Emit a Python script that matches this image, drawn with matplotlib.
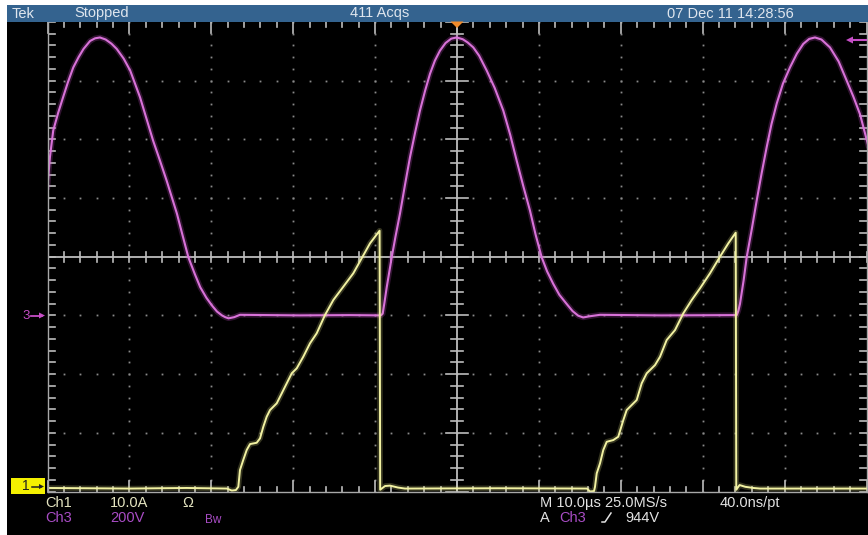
import numpy as np
import matplotlib
matplotlib.use("Agg")
import matplotlib.pyplot as plt
from matplotlib.patches import Rectangle, Polygon
from matplotlib.lines import Line2D

# ---- channel settings ----
time_per_div = 10.0      # µs/div
ch3_volts_per_div = 200.0
ch3_offset_div = -1.0
ch1_amps_per_div = 10.0
ch1_offset_div = -3.95

# ---- Ch3 voltage (V) vs time (µs) ----
ch3_t = [-50.0, -49.7, -49.3, -48.7, -48.1, -47.5, -46.85, -46.2, -45.6, -44.8,
         -44.2, -43.6, -42.9, -42.2, -41.55, -40.7, -39.9, -38.7, -37.1, -36.3,
         -35.45, -34.2, -33.5, -32.8, -32.0, -31.35, -30.6, -29.9, -29.3, -28.7,
         -28.3, -27.9, -27.2, -26.5, -19.2, -13.1, -9.3, -9.07, -8.85, -8.58,
         -7.97, -7.5, -6.96, -6.35, -5.74, -5.1, -4.52, -3.9, -3.30, -2.7,
         -2.08, -1.4, -0.7, -0.04, 0.7, 1.3, 1.99, 2.7, 3.63, 4.6,
         5.65, 6.5, 7.29, 8.1, 8.91, 9.6, 10.34, 11.0, 11.76, 12.5,
         13.39, 14.1, 14.8, 15.4, 16.2, 17.46, 25.0, 34.15, 34.35, 34.55,
         35.0, 35.37, 36.0, 36.59, 37.2, 37.81, 38.4, 39.04, 39.8, 40.66,
         41.5, 42.28, 43.0, 43.71, 44.5, 45.54, 46.6, 47.58, 48.4, 49.2,
         50.2]
ch3_v = [438, 540, 630, 690, 743, 795, 845, 880, 908, 935,
         944, 947, 940, 926, 908, 875, 834, 743, 595, 530,
         459, 347, 272, 198, 140, 96, 60, 33, 13, 0,
         -6, -10, -6, 2, 0, 1, 0, 6, 45, 96,
         198, 270, 347, 445, 539, 625, 698, 765, 823, 868,
         902, 928, 943, 947, 941, 930, 913, 885, 834, 775,
         698, 615, 527, 440, 357, 275, 198, 150, 107, 70,
         39, 15, -1, -7, -3, 2, 0, 1, 15, 39,
         120, 198, 295, 391, 485, 573, 652, 722, 790, 845,
         892, 925, 942, 947, 940, 913, 865, 800, 745, 686,
         580]

# ---- Ch1 current (A) vs time (µs) ----
ch1_t = [-50.0, -40.0, -33.0, -28.1, -27.5, -27.0, -26.7, -26.5, -26.1, -25.68,
         -25.27, -24.46, -24.05, -23.65, -23.24, -22.83, -22.01, -21.40, -20.79, -20.18,
         -19.57, -18.77, -17.95, -17.13, -16.12, -15.10, -13.88, -12.66, -11.64, -10.62,
         -9.45, -9.38, -8.79, -8.18, -7.2, -6.35, 5.0, 15.87, 16.24, 16.73,
         16.85, 17.06, 17.46, 17.86, 18.28, 19.08, 19.69, 20.31, 20.72, 21.33,
         21.94, 22.55, 23.16, 24.18, 24.79, 25.6, 26.62, 27.63, 28.66, 29.67,
         30.89, 32.11, 33.13, 34.03, 34.1, 34.5, 35.2, 36.2, 37.0, 50.0]
ch1_i = [0.1, 0.0, 0.1, 0.0, -0.34, -0.26, 0.3, 3.15, 4.86, 6.56,
         7.58, 7.8, 8.55, 10.53, 12.23, 13.38, 14.52, 16.22, 17.93, 19.63,
         20.48, 22.46, 24.74, 26.45, 29.56, 32.12, 34.39, 36.67, 39.23, 41.78,
         43.93, -0.2, 0.43, 0.5, 0.17, 0.0, 0.05, 0.0, -0.5, -0.43,
         0.3, 2.59, 4.29, 6.56, 7.97, 8.26, 8.83, 11.67, 13.38, 14.23,
         15.08, 17.93, 19.63, 21.04, 22.46, 25.3, 27.0, 29.85, 32.12, 34.11,
         36.67, 39.5, 41.78, 43.59, -0.2, 0.6, 0.3, 0.1, 0.0, 0.0]

# ---- readout texts ----
header_left = ["Tek", "Stopped"]
header_mid = "411 Acqs"
header_right = "07 Dec 11 14:28:56"
ch1_readout = ["Ch1", "10.0A", "Ω"]
ch3_readout = ["Ch3", "200V", "Bw"]
timebase_readout = ["M 10.0µs 25.0MS/s", "40.0ns/pt"]
trigger_readout = ["A", "Ch3", "944V"]

W, H = 868, 535
fig = plt.figure(figsize=(W / 100, H / 100), dpi=100, facecolor="white")


def fx(px):
    return px / W


def fy(py):
    return 1 - py / H


# screen background and status bar
fig.add_artist(Rectangle((fx(7), 0), 1 - fx(7), fy(5), transform=fig.transFigure,
                         facecolor="black", edgecolor="none", zorder=0))
fig.add_artist(Rectangle((fx(7), fy(21.5)), 1 - fx(7), fy(5) - fy(21.5),
                         transform=fig.transFigure, facecolor="#34638f",
                         edgecolor="none", zorder=1))

font = "Liberation Sans"
bar_col = "#dfe6ee"
fig.text(fx(12), fy(13.5), header_left[0], color=bar_col, fontsize=10.5,
         family=font, va="center", ha="left")
fig.text(fx(74), fy(13.5), header_left[1], color=bar_col, fontsize=10.5,
         family=font, va="center", ha="left")
fig.text(fx(380), fy(13.5), header_mid, color=bar_col, fontsize=10.5,
         family=font, va="center", ha="center")
fig.text(fx(667), fy(13.5), header_right, color=bar_col, fontsize=10.5,
         family=font, va="center", ha="left")

# graticule axes: x in µs, y in divisions
left_px, right_px, top_px, bot_px = 47.5, 866.5, 21.9, 491.5
ax = fig.add_axes([fx(left_px), fy(bot_px), (right_px - left_px) / W,
                   (bot_px - top_px) / H])
ax.set_facecolor("none")
ax.set_xlim(-5 * time_per_div, 5 * time_per_div)
ax.set_ylim(-4, 4)
ax.set_xticks([])
ax.set_yticks([])
for s in ax.spines.values():
    s.set_color("#a8a8a8")
    s.set_linewidth(1.0)
ax.spines["top"].set_visible(False)

grid_col = "#8a8a8a"
xpx = time_per_div / 81.9   # µs per pixel
ypx = 1 / 58.7              # div per pixel

# dotted division lines
for gx in np.arange(-40, 41, 10):
    if gx == 0:
        continue
    ys = np.arange(-4, 4.01, 0.2)
    ax.plot(np.full_like(ys, gx), ys, ls="none", marker="s", ms=1.3,
            color=grid_col, mew=0)
for gy in range(-3, 4):
    if gy == 0:
        continue
    xs = np.arange(-50, 50.01, 2)
    ax.plot(xs, np.full_like(xs, gy), ls="none", marker="s", ms=1.3,
            color=grid_col, mew=0)

# centre cross with minor ticks
cross_col = "#bdbdbd"
ax.axhline(0, color=cross_col, lw=1.3)
ax.axvline(0, color=cross_col, lw=1.3)
for tx in np.arange(-50, 50.01, 2):
    h = 5 * ypx
    ax.plot([tx, tx], [-h, h], color=cross_col, lw=1.2)
for ty in np.arange(-4, 4.01, 0.2):
    w = (11 if abs(ty - round(ty)) < 1e-6 else 6) * xpx
    ax.plot([-w, w], [ty, ty], color=cross_col, lw=1.2)

# edge ticks
for tx in np.arange(-50, 50.01, 2):
    major = abs(tx / 10 - round(tx / 10)) < 1e-6
    L = (11 if major else 5) * ypx
    ax.plot([tx, tx], [4, 4 - L], color=cross_col, lw=1.2, clip_on=False)
    ax.plot([tx, tx], [-4, -4 + L], color=cross_col, lw=1.2, clip_on=False)
for ty in np.arange(-4, 4.01, 0.2):
    L = 7 * xpx
    ax.plot([-50, -50 + L], [ty, ty], color=cross_col, lw=1.2)
    ax.plot([50, 50 - L], [ty, ty], color=cross_col, lw=1.2)

# traces
ch3_div = ch3_offset_div + np.array(ch3_v) / ch3_volts_per_div
ch1_div = ch1_offset_div + np.array(ch1_i) / ch1_amps_per_div
mag = "#c64ec6"
yel = "#ecec8c"
ax.plot(ch3_t, ch3_div, color=mag, lw=4, alpha=0.25, solid_joinstyle="round")
ax.plot(ch3_t, ch3_div, color="#d872d8", lw=1.5, solid_joinstyle="round")
ax.plot(ch1_t, ch1_div, color=yel, lw=4, alpha=0.22, solid_joinstyle="round")
ax.plot(ch1_t, ch1_div, color="#f2f2a2", lw=1.4, solid_joinstyle="round")

# trigger position marker
fig.add_artist(Polygon([(fx(450.5), fy(21.5)), (fx(463.5), fy(21.5)),
                        (fx(457), fy(28))], closed=True,
                       transform=fig.transFigure, facecolor="#f08a2a",
                       edgecolor="none", zorder=5))

# trigger level arrow (right edge)
fig.add_artist(Line2D([fx(850), fx(866)], [fy(40), fy(40)],
                      transform=fig.transFigure, color=mag, lw=1.5))
fig.add_artist(Polygon([(fx(846), fy(40)), (fx(853), fy(36.5)), (fx(853), fy(43.5))],
                       closed=True, transform=fig.transFigure,
                       facecolor=mag, edgecolor="none"))

# channel ground markers
fig.text(fx(22), fy(316), "3", color=mag, fontsize=9.5, family=font,
         va="center", ha="left")
fig.add_artist(Line2D([fx(31), fx(42)], [fy(315.5), fy(315.5)],
                      transform=fig.transFigure, color=mag, lw=1.3))
fig.add_artist(Polygon([(fx(45), fy(315.5)), (fx(39), fy(312.5)), (fx(39), fy(318.5))],
                       closed=True, transform=fig.transFigure,
                       facecolor=mag, edgecolor="none"))
fig.add_artist(Rectangle((fx(11), fy(494)), fx(45) - fx(11), fy(478) - fy(494),
                         transform=fig.transFigure, facecolor="#f4f000",
                         edgecolor="none", zorder=4))
fig.text(fx(22), fy(486.5), "1", color="#202020", fontsize=10, family=font,
         va="center", ha="left", zorder=6)
fig.add_artist(Line2D([fx(32), fx(41)], [fy(486.5), fy(486.5)],
                      transform=fig.transFigure, color="#202020", lw=1.1, zorder=6))
fig.add_artist(Polygon([(fx(44), fy(486.5)), (fx(39), fy(484)), (fx(39), fy(489))],
                       closed=True, transform=fig.transFigure,
                       facecolor="#202020", edgecolor="none", zorder=6))

# readouts
ch1_col = "#e4e4c0"
ch3_col = "#a84cc4"
wht = "#e2e2e2"
fs = 10.5
fig.text(fx(45), fy(503), ch1_readout[0], color=ch1_col, fontsize=fs, family=font, va="center")
fig.text(fx(110), fy(503), ch1_readout[1], color=ch1_col, fontsize=fs, family=font, va="center")
fig.text(fx(182), fy(503), ch1_readout[2], color=ch1_col, fontsize=fs, family=font, va="center")
fig.text(fx(45), fy(518), ch3_readout[0], color=ch3_col, fontsize=fs, family=font, va="center")
fig.text(fx(110), fy(518), ch3_readout[1], color=ch3_col, fontsize=fs, family=font, va="center")
fig.text(fx(205), fy(520), ch3_readout[2], color=ch3_col, fontsize=8.5, family=font, va="center")

fig.text(fx(540), fy(503), timebase_readout[0], color=wht, fontsize=fs, family=font, va="center")
fig.text(fx(720), fy(503), timebase_readout[1], color=wht, fontsize=fs, family=font, va="center")
fig.text(fx(540), fy(518), trigger_readout[0], color=wht, fontsize=fs, family=font, va="center")
fig.text(fx(559), fy(518), trigger_readout[1], color=ch3_col, fontsize=fs, family=font, va="center")
fig.text(fx(625), fy(518), trigger_readout[2], color=wht, fontsize=fs, family=font, va="center")
# rising-edge slope symbol
fig.add_artist(Line2D([fx(602), fx(605), fx(611)], [fy(522), fy(522), fy(513)],
                      transform=fig.transFigure, color=wht, lw=1.1))

fig.savefig("out.png", dpi=100, facecolor=fig.get_facecolor())
